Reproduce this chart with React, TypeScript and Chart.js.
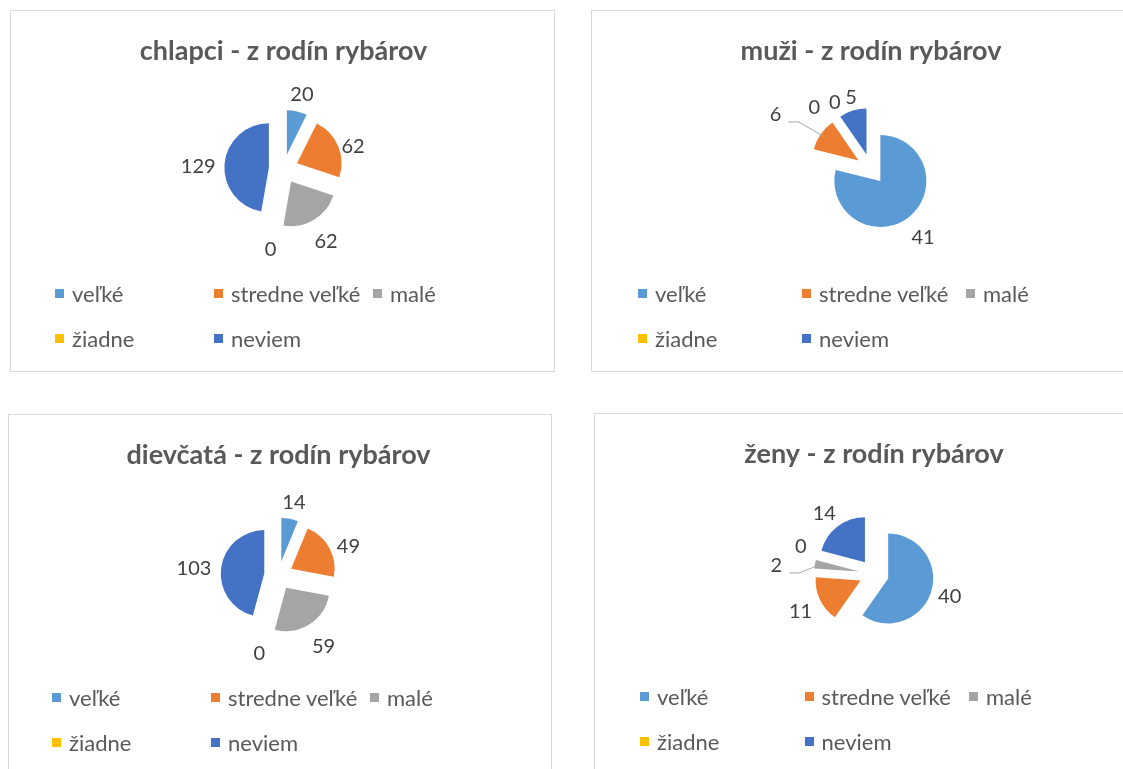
import React, { useEffect, useRef } from 'react';
import { Chart, registerables } from 'chart.js';

Chart.register(...registerables);

// ---- data ----
const categories = ['veľké', 'stredne veľké', 'malé', 'žiadne', 'neviem'];
const chlapciValues = [20, 62, 62, 0, 129];
const muziValues = [41, 6, 0, 0, 5];
const dievcataValues = [14, 49, 59, 0, 103];
const zenyValues = [40, 11, 2, 0, 14];
const titles = [
  'chlapci - z rodín rybárov',
  'muži - z rodín rybárov',
  'dievčatá - z rodín rybárov',
  'ženy - z rodín rybárov',
];

// ---- styles / layout ----
const sliceColors = ['#5B9BD5', '#ED7D31', '#A5A5A5', '#FFC000', '#4472C4'];
const FONT = 'Lato, "Open Sans", sans-serif';
const TITLE_SIZE = 27;
const TITLE_MID = 40.4;
const LABEL_SIZE = 20;
const LEGEND_SIZE = 22;
const EXPLODE = 0.33;
const LABEL_GAP = 8;
const LABEL_DY = 3;
const ROW_Y = [283.5, 328.5];
const ROW_H = 44;

type Panel = {
  title: string;
  values: number[];
  left: number;
  top: number;
  width: number;
  height: number;
  cx: number;
  cy: number;
  radius: number;
  legendLeft: number;
  colWidth: number;
  nudges: Record<number, [number, number]>;
  leaders: number[];
};

const panels: Panel[] = [
  { title: titles[0], values: chlapciValues, left: 10, top: 10, width: 545, height: 362, cx: 273.5, cy: 159, radius: 44.5, legendLeft: 45, colWidth: 159, nudges: { 1: [-5, 5], 2: [1, 2], 4: [1, 1] }, leaders: [] },
  { title: titles[1], values: muziValues, left: 591, top: 10, width: 562, height: 362, cx: 280, cy: 159, radius: 46, legendLeft: 47, colWidth: 164, nudges: { 1: [-32, -11], 2: [-13, 2], 3: [7.5, -2.5], 0: [1, 2], 4: [3, 3] }, leaders: [1] },
  { title: titles[2], values: dievcataValues, left: 8, top: 414, width: 544, height: 362, cx: 270.5, cy: 161.5, radius: 43.5, legendLeft: 44, colWidth: 159, nudges: { 1: [0, 5], 2: [3, 2] }, leaders: [] },
  { title: titles[3], values: zenyValues, left: 594, top: 413, width: 562, height: 362, cx: 280, cy: 161, radius: 45, legendLeft: 46, colWidth: 164.5, nudges: { 2: [-23, 2], 3: [0, -10], 0: [-2, -4] }, leaders: [2] },
];

function makeExplodePlugin(ratio: number) {
  return {
    id: 'explodeSlices',
    afterDatasetUpdate(chart: any, args: any) {
      const meta = chart.getDatasetMeta(args.index);
      meta.data.forEach((arc: any) => {
        const mid = (arc.startAngle + arc.endAngle) / 2;
        const d = arc.outerRadius * ratio;
        arc.x += Math.cos(mid) * d;
        arc.y += Math.sin(mid) * d;
      });
    },
  };
}

function makeLabelPlugin(panel: Panel) {
  return {
    id: 'sliceLabels',
    afterDatasetsDraw(chart: any) {
      const ctx = chart.ctx;
      const meta = chart.getDatasetMeta(0);
      const values = chart.data.datasets[0].data;
      ctx.save();
      ctx.font = `${LABEL_SIZE}px ${FONT}`;
      ctx.textAlign = 'center';
      ctx.textBaseline = 'middle';
      meta.data.forEach((arc: any, i: number) => {
        const mid = (arc.startAngle + arc.endAngle) / 2;
        const dx = Math.cos(mid);
        const dy = Math.sin(mid);
        const text = String(values[i]);
        const w = ctx.measureText(text).width;
        const hw = w / 2 + 2;
        const hh = LABEL_SIZE * 0.6;
        const R = arc.outerRadius + LABEL_GAP;
        const n = panel.nudges[i] || [0, 0];
        const x = arc.x + dx * (R + hw) + n[0];
        const y = arc.y + dy * (R + hh) + n[1] + LABEL_DY;
        if (panel.leaders.includes(i)) {
          const sx = x + hw + 5;
          const sy = y + 7;
          ctx.strokeStyle = '#A6A6A6';
          ctx.lineWidth = 1;
          ctx.beginPath();
          ctx.moveTo(sx, sy);
          ctx.lineTo(sx + 10, sy);
          ctx.lineTo(arc.x + dx * arc.outerRadius * 0.9, arc.y + dy * arc.outerRadius * 0.9);
          ctx.stroke();
        }
        ctx.fillStyle = '#404040';
        ctx.fillText(text, x, y);
      });
      ctx.restore();
    },
  };
}

function PiePanel({ panel }: { panel: Panel }) {
  const ref = useRef<HTMLCanvasElement>(null);
  const innerW = panel.width - 2;
  const innerH = panel.height - 2;
  useEffect(() => {
    if (!ref.current) return;
    const cx = panel.cx - 1;
    const cy = panel.cy - 1;
    const titlePadTop = TITLE_MID - (TITLE_SIZE * 1.2) / 2;
    const titleH = titlePadTop + TITLE_SIZE * 1.2;
    const padBottom = innerH + titleH - 2 * cy;
    const padLeft = Math.max(0, 2 * cx - innerW);
    const padRight = Math.max(0, innerW - 2 * cx);
    const chart = new Chart(ref.current, {
      type: 'pie',
      data: {
        labels: categories,
        datasets: [
          {
            data: panel.values,
            backgroundColor: sliceColors,
            borderWidth: 0,
            radius: panel.radius,
          } as any,
        ],
      },
      options: {
        animation: false,
        responsive: false,
        maintainAspectRatio: false,
        layout: { padding: { left: padLeft, right: padRight, top: 0, bottom: padBottom } },
        plugins: {
          legend: { display: false },
          tooltip: { enabled: false },
          title: {
            display: true,
            text: panel.title,
            color: '#595959',
            font: { family: FONT, size: TITLE_SIZE, weight: 'bold' },
            padding: { top: titlePadTop, bottom: 0 },
          },
        },
      } as any,
      plugins: [makeExplodePlugin(EXPLODE), makeLabelPlugin(panel)],
    });
    return () => chart.destroy();
  }, []);

  return (
    <div
      style={{
        position: 'absolute',
        left: panel.left,
        top: panel.top,
        width: panel.width,
        height: panel.height,
        border: '1px solid #D9D9D9',
        boxSizing: 'border-box',
        background: '#fff',
      }}
    >
      <canvas
        ref={ref}
        width={innerW}
        height={innerH}
        style={{ position: 'absolute', left: 0, top: 0, width: innerW, height: innerH }}
      />
      {ROW_Y.map((ry, row) => (
        <div
          key={row}
          style={{
            position: 'absolute',
            left: panel.legendLeft - 1,
            top: ry - 1 - ROW_H / 2,
            height: ROW_H,
            display: 'flex',
          }}
        >
          {categories.slice(row * 3, row * 3 + 3).map((c, j) => {
            const idx = row * 3 + j;
            return (
              <div
                key={c}
                style={{
                  width: panel.colWidth,
                  height: ROW_H,
                  display: 'flex',
                  alignItems: 'center',
                  whiteSpace: 'nowrap',
                  fontFamily: FONT,
                  fontSize: LEGEND_SIZE,
                  color: '#595959',
                }}
              >
                <span
                  style={{
                    display: 'inline-block',
                    width: 9,
                    height: 9,
                    background: sliceColors[idx],
                    marginRight: 8,
                    flex: '0 0 auto',
                  }}
                />
                <span>{c}</span>
              </div>
            );
          })}
        </div>
      ))}
    </div>
  );
}

export default function App() {
  return (
    <div
      style={{
        position: 'fixed',
        left: 0,
        top: 0,
        width: 1123,
        height: 769,
        overflow: 'hidden',
        background: '#fff',
      }}
    >
      {panels.map((p, i) => (
        <PiePanel key={i} panel={p} />
      ))}
    </div>
  );
}
